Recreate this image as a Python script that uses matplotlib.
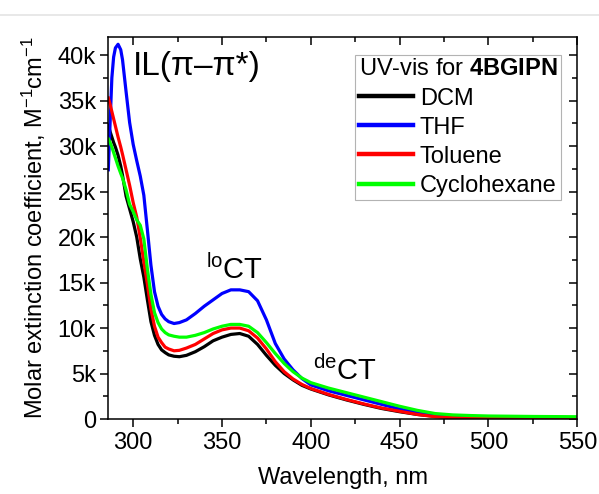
import matplotlib
matplotlib.use("Agg")
import matplotlib.pyplot as plt
from matplotlib.ticker import MultipleLocator, FuncFormatter
from matplotlib.lines import Line2D

plt.rcParams['font.family'] = ['Liberation Sans', 'DejaVu Sans']
plt.rcParams['mathtext.fontset'] = 'custom'
plt.rcParams['mathtext.rm'] = 'Liberation Sans'
plt.rcParams['mathtext.it'] = 'Liberation Sans:italic'
plt.rcParams['mathtext.bf'] = 'Liberation Sans:bold'

# wavelengths (nm)
wl = [286, 287, 288, 289, 290, 291.5, 293, 294, 296, 298, 300, 302, 304, 306, 308,
      310, 312, 314, 316, 318, 320, 323, 326, 330, 335, 340, 345, 350, 355, 360,
      365, 370, 375, 380, 385, 390, 395, 400, 410, 420, 430, 440, 450, 460, 470,
      480, 490, 500, 525, 550]

# molar extinction coefficients (M^-1 cm^-1)
dcm = [32300, 31600, 31000, 30400, 29900, 29000, 27800, 26800, 24500, 23100, 21700,
       20000, 17600, 15600, 13100, 10700, 9200, 8200, 7600, 7300, 7050, 6900, 6850,
       7000, 7400, 7950, 8600, 9000, 9300, 9400, 9100, 8200, 7000, 5900, 5000, 4300,
       3700, 3300, 2650, 2100, 1600, 1150, 800, 500, 300, 200, 150, 120, 100, 100]
thf = [27400, 32500, 37500, 39800, 40800, 41200, 40600, 39500, 36000, 32600, 30200,
       28400, 26700, 24600, 20800, 16900, 14000, 12400, 11500, 11000, 10700, 10500,
       10600, 10900, 11600, 12400, 13100, 13800, 14200, 14200, 14000, 13000, 10900,
       8300, 6600, 5400, 4450, 3750, 3100, 2600, 2100, 1600, 1100, 700, 420, 290,
       230, 200, 170, 150]
tol = [35300, 34600, 33800, 33000, 32200, 31000, 29900, 29100, 27400, 25700, 23800,
       22200, 19900, 17300, 14800, 12100, 10200, 9000, 8400, 7900, 7700, 7500, 7550,
       7800, 8200, 8800, 9400, 9800, 10000, 10000, 9700, 8900, 7700, 6300, 5200,
       4400, 3800, 3350, 2700, 2150, 1650, 1200, 850, 500, 250, 150, 100, 80, 60, 50]
chx = [30800, 30400, 29900, 29300, 28700, 27800, 27000, 26500, 25200, 23600, 22800,
       21900, 21300, 19800, 16500, 13700, 11700, 10600, 9900, 9500, 9250, 9100, 9000,
       9000, 9200, 9500, 9900, 10200, 10400, 10400, 10200, 9500, 8400, 7200, 6100,
       5200, 4500, 4000, 3400, 2900, 2400, 1900, 1400, 950, 600, 450, 380, 330,
       280, 250]

labels = ['DCM', 'THF', 'Toluene', 'Cyclohexane']
colors = ['#000000', '#0000ff', '#ff0000', '#00ff00']
series = [dcm, thf, tol, chx]

fig = plt.figure(figsize=(5.99, 4.94), dpi=100)
ax = fig.add_axes([0.1808, 0.1518, 0.783, 0.7733])

for y, c, lab in zip(series, colors, labels):
    ax.plot(wl, y, color=c, lw=2.3, label=lab, solid_joinstyle='round')

ax.set_xlim(286, 550)
ax.set_ylim(0, 42000)
ax.xaxis.set_major_locator(MultipleLocator(50))
ax.xaxis.set_minor_locator(MultipleLocator(25))
ax.yaxis.set_major_locator(MultipleLocator(5000))
ax.yaxis.set_minor_locator(MultipleLocator(2500))
ax.yaxis.set_major_formatter(FuncFormatter(lambda v, p: '0' if v == 0 else f'{int(v/1000)}k'))

for s in ax.spines.values():
    s.set_linewidth(1.1)

ax.tick_params(which='both', labelsize=17, width=1.1)
ax.tick_params(which='major', length=6, pad=3)
ax.tick_params(which='minor', length=3.5)
ax.tick_params(which='both', top=True, right=True)
ax.xaxis.set_tick_params(which='both', direction='out')
ax.yaxis.set_tick_params(which='both', direction='out')
for t in ax.xaxis.get_major_ticks() + ax.xaxis.get_minor_ticks():
    t.tick2line.set_marker(3)  # top ticks point inward
for t in ax.yaxis.get_major_ticks() + ax.yaxis.get_minor_ticks():
    t.tick2line.set_marker(0)  # right ticks point inward

ax.set_xlabel('Wavelength, nm', fontsize=17, labelpad=10)
ax.set_ylabel('Molar extinction coefficient, M$^{\\mathregular{-1}}$cm$^{\\mathregular{-1}}$',
              fontsize=17, labelpad=7)

ax.text(300, 38800, 'IL(π–π*)', fontsize=24, ha='left', va='center')
ax.text(341, 15400, '$^{\\mathregular{lo}}$CT', fontsize=21, ha='left', va='baseline')
ax.text(401, 4300, '$^{\\mathregular{de}}$CT', fontsize=21, ha='left', va='baseline')

leg = ax.legend(title='UV-vis for $\\mathbf{4BGIPN}$', loc='upper right',
                bbox_to_anchor=(0.9646, 0.953), fontsize=17, title_fontsize=17,
                frameon=True, fancybox=False, handlelength=2.3, handletextpad=0.3,
                labelspacing=0.3, borderpad=0.15, borderaxespad=0.0)
leg.get_frame().set_edgecolor('#a0a0a0')
leg.get_frame().set_linewidth(0.8)
leg._legend_box.align = 'left'
for h in leg.get_lines():
    h.set_linewidth(3.2)

fig.add_artist(Line2D([0, 1], [1 - 15.5/494, 1 - 15.5/494], transform=fig.transFigure,
                      color='#e4e4e4', lw=1.2))

fig.savefig('out.png', dpi=100)
